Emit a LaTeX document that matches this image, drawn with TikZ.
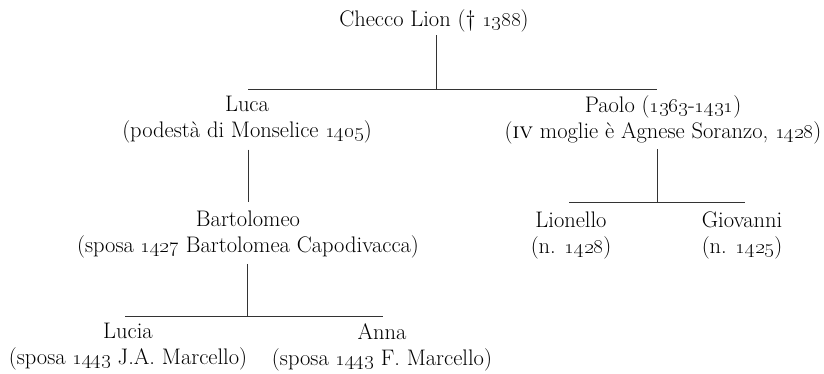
\documentclass[tikz,border=0pt]{standalone}
\begin{document}
\begin{tikzpicture}[x=1pt,y=-1pt,
  person/.style={align=center,inner sep=0pt,font=\fontsize{22.5}{26}\selectfont},
  line/.style={draw=black!80,line width=0.9pt}]
\useasboundingbox (0,0) rectangle (824,373);

% people
\node[person] (checco) at (434,21) {Checco Lion (\textdagger\ \oldstylenums{1388})};
\node[person] (luca) at (247,120) {Luca\\(podestà di Monselice \oldstylenums{1405})};
\node[person] (paolo) at (663,120) {Paolo (\oldstylenums{1363}-\oldstylenums{1431})\\(\textsc{iv} moglie è Agnese Soranzo, \oldstylenums{1428})};
\node[person] (bart) at (248,234) {Bartolomeo\\(sposa \oldstylenums{1427} Bartolomea Capodivacca)};
\node[person] (lionello) at (571,235) {Lionello\\(n. \oldstylenums{1428})};
\node[person] (giovanni) at (742,235) {Giovanni\\(n. \oldstylenums{1425})};
\node[person] (lucia) at (128,347) {Lucia\\(sposa \oldstylenums{1443} J.A. Marcello)};
\node[person] (anna) at (382,347) {Anna\\(sposa \oldstylenums{1443} F. Marcello)};

% bar levels
\coordinate (barA) at (436,89);
\coordinate (barAl) at (248,89);
\coordinate (barAr) at (657,89);
\coordinate (barB) at (657,202);
\coordinate (barBl) at (569,202);
\coordinate (barBr) at (745,202);
\coordinate (barC) at (247,316);
\coordinate (barCl) at (125,316);
\coordinate (barCr) at (383,316);

% descent lines
\draw[line,shorten <=3pt] (checco.south -| barA) -- (barA);
\draw[line] (barAl) -- (barAr);
\draw[line,shorten <=6pt,shorten >=8pt] (luca.south -| barAl) -- (bart.north -| barAl);
\draw[line,shorten <=5pt] (paolo.south -| barB) -- (barB);
\draw[line] (barBl) -- (barBr);
\draw[line,shorten <=6pt] (bart.south -| barC) -- (barC);
\draw[line] (barCl) -- (barCr);
\end{tikzpicture}
\end{document}
